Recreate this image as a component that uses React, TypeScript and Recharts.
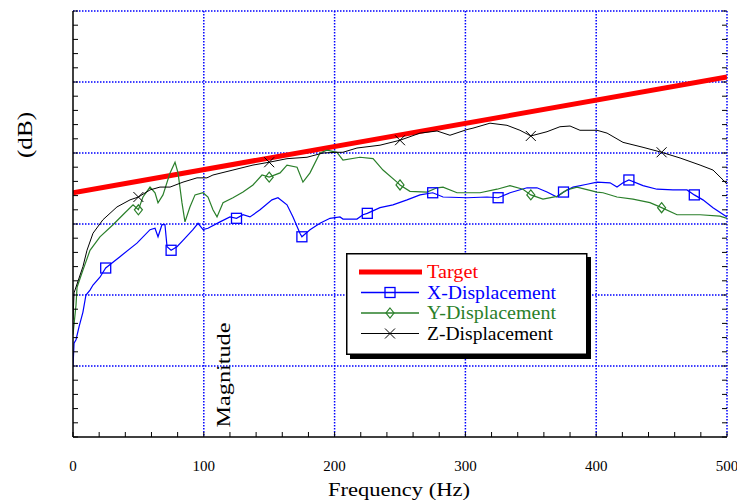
import React from 'react';
import { LineChart, Line, XAxis, YAxis, CartesianGrid, Legend } from 'recharts';

const RED = '#ff0000';
const BLUE = '#0000ff';
const GREEN = '#2a7f2a';
const BLACK = '#000000';
const FONT = '"Liberation Serif", "Times New Roman", serif';

// Frequency (Hz) tick labels
const xTickLabels = [0, 100, 200, 300, 400, 500];
const xMinorTicks = [0, 20, 40, 60, 80, 100, 120, 140, 160, 180, 200, 220, 240, 260, 280, 300, 320, 340, 360, 380, 400, 420, 440, 460, 480, 500];
const yMinorTicks = [0, 2, 4, 6, 8, 10, 12, 14, 16, 18, 20, 22, 24, 26, 28, 30, 32, 34, 36, 38, 40, 42, 44, 46, 48, 50, 52, 54, 56, 58, 60];
const yGridValues = [10, 20, 30, 40, 50, 60];
const xGridValues = [100, 200, 300, 400, 500];

// Target
const targetFreq = [0, 500];
const targetVals = [34.4, 50.7];

// X-Displacement
const xFreq = [0, 0.8, 2.3, 4.6, 7.6, 9.9, 13, 15.3, 20.6, 25, 35.9, 48.9, 58.9, 62.7, 65, 68, 70.3, 71.9, 75, 79.5, 84.1, 91.7, 95.6, 99.4, 103.2, 112.4, 120, 125, 130, 135.3, 143, 152.1, 156.7, 163.6, 168.2, 173.5, 175, 181.2, 188.8, 196.5, 204.1, 206.4, 217.1, 221.7, 225, 234.7, 244.6, 255.4, 265.3, 275, 282.9, 301.2, 316.5, 325, 334.1, 347.1, 354.7, 362.4, 370, 375, 382.3, 393, 400.6, 410.6, 415.9, 420.5, 425, 435.8, 446.5, 458.7, 469.4, 475, 481.6, 489.3, 500];
const xVals = [9.9, 13.2, 13.7, 15.5, 17.6, 20.0, 20.7, 21.4, 22.5, 23.8, 25.4, 27.3, 29.2, 29.4, 28.2, 29.9, 29.9, 26.8, 26.3, 26.8, 27.7, 29.2, 30.1, 29.2, 29.4, 30.3, 31.0, 30.8, 31.3, 31.0, 32.0, 33.4, 33.7, 32.7, 31.0, 28.7, 28.2, 29.2, 30.1, 30.8, 31.0, 30.7, 30.7, 31.3, 31.5, 32.3, 32.7, 33.4, 34.1, 34.4, 33.8, 33.7, 33.8, 33.7, 34.4, 35.1, 35.1, 34.5, 33.8, 34.5, 35.2, 35.6, 35.9, 35.8, 35.2, 35.8, 36.2, 35.4, 34.9, 34.8, 34.8, 34.1, 33.4, 32.3, 31.0];
const xMarks = [25, 75, 125, 175, 225, 275, 325, 375, 425, 475];

// Y-Displacement
const yFreq = [0, 2.3, 3.1, 7.6, 13, 20.6, 30.6, 38.2, 45.9, 50, 53.5, 58.9, 62.7, 65, 68.8, 74.2, 78, 80.3, 83.3, 85.6, 89.4, 93.3, 99.4, 103.2, 107, 110.1, 114.7, 122.3, 130, 137.6, 144.5, 150, 158.3, 163.6, 171.3, 175.8, 181.2, 188.8, 194.2, 201.8, 206.4, 219.4, 229.4, 237, 247.7, 250, 257.6, 270.6, 278.3, 282.9, 293.6, 311.2, 324.2, 334.1, 344, 350, 359.3, 370, 377.7, 385.3, 400.6, 405.2, 415.9, 428.1, 441.1, 450, 461.8, 479.4, 494.6, 500];
const yVals = [14.4, 18.6, 21.1, 23.5, 26.3, 28.2, 29.9, 31.3, 32.7, 32.0, 33.8, 35.2, 34.4, 33.0, 34.1, 37.2, 38.7, 37.2, 33.0, 30.3, 32.4, 34.1, 34.4, 33.8, 32.0, 31.0, 33.0, 33.7, 34.5, 35.5, 36.9, 36.6, 37.2, 38.3, 38.0, 35.9, 37.2, 40.0, 40.4, 40.1, 39.0, 39.4, 39.2, 37.6, 35.9, 35.5, 34.6, 34.5, 35.1, 35.2, 34.4, 34.4, 34.9, 35.4, 34.9, 34.1, 33.5, 33.9, 34.8, 35.2, 34.5, 34.4, 33.8, 33.5, 33.0, 32.3, 31.3, 31.3, 31.1, 30.8];
const yMarks = [50, 150, 250, 350, 450];

// Z-Displacement
const zFreq = [0, 0.8, 7.6, 10.7, 15.3, 22.9, 33.6, 43.6, 50, 58.9, 66.5, 74.2, 84.1, 94.8, 102.4, 107, 122.3, 137.6, 150, 163.6, 178.9, 191.1, 201.8, 206.4, 217.1, 234.7, 250, 265.3, 278.3, 288.2, 301.2, 305.8, 318.8, 331.8, 341.7, 350, 362.4, 372.3, 380, 387.6, 400.6, 408.3, 420.5, 435.8, 450, 464.1, 479.4, 489.3, 497, 500];
const zVals = [16.5, 20.3, 24.0, 26.3, 28.7, 30.6, 32.4, 33.4, 33.8, 34.8, 35.2, 35.2, 35.9, 36.5, 36.5, 36.9, 37.6, 38.3, 38.7, 39.2, 39.4, 40.0, 40.1, 40.1, 40.7, 41.1, 41.8, 42.8, 43.1, 42.5, 43.3, 43.5, 44.2, 43.9, 43.2, 42.4, 43.0, 43.7, 43.8, 43.2, 43.2, 42.8, 41.5, 40.8, 40.1, 39.3, 38.3, 37.6, 36.2, 35.6];
const zMarks = [50, 150, 250, 350, 450];

const build = (freq: number[], vals: number[], marks: number[]) =>
  freq.map((f, i) => ({ f, v: vals[i], m: marks.includes(f) }));

const targetData = build(targetFreq, targetVals, []);
const xData = build(xFreq, xVals, xMarks);
const yData = build(yFreq, yVals, yMarks);
const zData = build(zFreq, zVals, zMarks);

const Square = ({ cx, cy, color }: any) => (
  <rect x={cx - 5} y={cy - 5} width={10} height={10} fill="none" stroke={color} strokeWidth={1.3} />
);
const Diamond = ({ cx, cy, color }: any) => (
  <polygon points={`${cx},${cy - 5} ${cx + 4},${cy} ${cx},${cy + 5} ${cx - 4},${cy}`} fill="none" stroke={color} strokeWidth={1.2} />
);
const Cross = ({ cx, cy, color }: any) => (
  <g stroke={color} strokeWidth={1}>
    <line x1={cx - 5} y1={cy - 5} x2={cx + 5} y2={cy + 5} />
    <line x1={cx - 5} y1={cy + 5} x2={cx + 5} y2={cy - 5} />
  </g>
);

const makeDot = (Shape: any, color: string) => (props: any) => {
  const { cx, cy, payload, index } = props;
  if (!payload || !payload.m) return <g key={`d${index}`} />;
  return (
    <g key={`d${index}`}>
      <Shape cx={cx} cy={cy} color={color} />
    </g>
  );
};

const renderXTick = (props: any) => {
  const { x, y, payload } = props;
  if (!xTickLabels.includes(payload.value)) return <g />;
  return (
    <text x={x} y={y + 39} textAnchor="middle" fontFamily={FONT} fontSize={15} fill="#000">
      {payload.value}
    </text>
  );
};

const emptyTick = () => <g />;

const legendRows = [
  { name: 'Target', color: RED, shape: null, width: 5, len: 51 },
  { name: 'X-Displacement', color: BLUE, shape: Square, width: 1.3, len: 129 },
  { name: 'Y-Displacement', color: GREEN, shape: Diamond, width: 1.3, len: 129 },
  { name: 'Z-Displacement', color: BLACK, shape: Cross, width: 1, len: 126 },
];

const renderLegend = () => (
  <svg width={247} height={108} style={{ display: 'block' }}>
    <rect x={4} y={4} width={241} height={102} fill="#000" />
    <rect x={0.75} y={0.75} width={240} height={100.5} fill="#fff" stroke="#000" strokeWidth={1.5} />
    {legendRows.map((r, i) => {
      const cy = 19 + i * 20.5;
      const Shape: any = r.shape;
      return (
        <g key={r.name}>
          <line x1={i === 0 ? 13 : 15} x2={i === 0 ? 76 : 73} y1={cy} y2={cy} stroke={r.color} strokeWidth={r.width} />
          {Shape ? <Shape cx={44} cy={cy} color={r.color} /> : null}
          <text x={81} y={cy + 6} fontFamily={FONT} fontSize={18} fill={r.color} textLength={r.len} lengthAdjust="spacingAndGlyphs">
            {r.name}
          </text>
        </g>
      );
    })}
  </svg>
);

export default function App() {
  return (
    <div style={{ position: 'absolute', left: 0, top: 0, width: 737, height: 504, background: '#fff' }}>
      <LineChart width={737} height={504} data={xData} margin={{ top: 11, right: 10, bottom: 67, left: 73 }}>
        <CartesianGrid
          horizontalValues={yGridValues}
          verticalValues={xGridValues}
          horizontal={{ stroke: BLUE, strokeWidth: 1.5, strokeDasharray: '1.5 1.5' } as any}
          vertical={{ stroke: BLUE, strokeWidth: 1.5, strokeDasharray: '1.5 1.5' } as any}
          stroke={BLUE}
          strokeOpacity={1}
          strokeDasharray="1.5 1.5"
          strokeWidth={1.5}
        />
        <XAxis
          dataKey="f"
          type="number"
          domain={[0, 500]}
          ticks={xMinorTicks}
          interval={0}
          mirror
          tickSize={5}
          tickMargin={0}
          allowDataOverflow
          axisLine={{ stroke: '#000', strokeWidth: 1.5 }}
          tickLine={{ stroke: '#000' }}
          tick={renderXTick}
        />
        <YAxis
          dataKey="v"
          type="number"
          domain={[0, 60]}
          ticks={yMinorTicks}
          interval={0}
          mirror
          tickSize={5}
          allowDataOverflow
          axisLine={{ stroke: '#000', strokeWidth: 1.5 }}
          tickLine={{ stroke: '#000' }}
          tick={emptyTick}
        />
        <YAxis
          yAxisId="right"
          orientation="right"
          type="number"
          domain={[0, 60]}
          ticks={yMinorTicks}
          interval={0}
          mirror
          tickSize={5}
          allowDataOverflow
          axisLine={false}
          tickLine={{ stroke: '#000' }}
          tick={emptyTick}
        />
        <Line data={targetData} dataKey="v" stroke={RED} strokeWidth={5} dot={false} isAnimationActive={false} name="Target" />
        <Line data={xData} dataKey="v" stroke={BLUE} strokeWidth={1.2} dot={makeDot(Square, BLUE)} isAnimationActive={false} name="X-Displacement" />
        <Line data={yData} dataKey="v" stroke={GREEN} strokeWidth={1.2} dot={makeDot(Diamond, GREEN)} isAnimationActive={false} name="Y-Displacement" />
        <Line data={zData} dataKey="v" stroke={BLACK} strokeWidth={1} dot={makeDot(Cross, BLACK)} isAnimationActive={false} name="Z-Displacement" />
        <Legend
          layout="vertical"
          align="center"
          verticalAlign="middle"
          wrapperStyle={{ left: 346, top: 253, width: 247, height: 108 }}
          content={renderLegend}
        />
        <text x={32} y={135} transform="rotate(-90 32 135)" textAnchor="middle" fontFamily={FONT} fontSize={20} fill="#000" textLength={46} lengthAdjust="spacingAndGlyphs">
          (dB)
        </text>
        <text x={230} y={375} transform="rotate(-90 230 375)" textAnchor="middle" fontFamily={FONT} fontSize={19} fill="#000" textLength={105} lengthAdjust="spacingAndGlyphs">
          Magnitude
        </text>
        <text x={399} y={496} textAnchor="middle" fontFamily={FONT} fontSize={19} fill="#000" textLength={142} lengthAdjust="spacingAndGlyphs">
          Frequency (Hz)
        </text>
      </LineChart>
    </div>
  );
}
